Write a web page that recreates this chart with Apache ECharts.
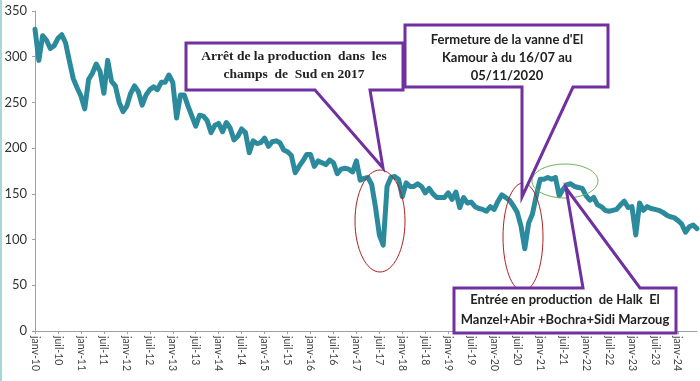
<!DOCTYPE html>
<html>
<head>
<meta charset="utf-8">
<script src="https://cdn.jsdelivr.net/npm/echarts@6/dist/echarts.min.js"></script>
<style>html,body{margin:0;padding:0;background:#fff;}#c{width:700px;height:381px;}</style>
</head>
<body>
<div id="c"></div>
<script>
const monthNames = ['janv','févr','mars','avr','mai','juin','juil','août','sept','oct','nov','déc'];
const firstYear = 10;
const values = [
330,296,323,318,309,312,320,324,315,295,276,266,
257,243,275,282,292,284,260,296,273,268,250,240,
246,260,268,262,247,258,264,267,264,272,272,280,
272,233,258,258,246,235,224,236,235,230,217,225,
227,218,228,222,209,213,221,217,195,208,205,206,
211,202,207,208,206,198,196,192,173,180,186,193,
193,180,186,184,182,187,184,172,177,178,177,174,
186,165,167,168,160,135,105,94,158,168,169,166,
147,162,158,158,161,158,151,156,150,146,146,146,
151,144,152,135,146,140,141,136,134,133,131,136,
133,142,149,146,143,137,130,115,90,118,128,148,
166,166,168,166,168,148,155,160,161,158,157,156,
148,143,146,138,136,132,131,132,133,138,142,135,
136,105,140,132,136,134,133,132,130,127,125,124,
121,117,108,114,116,112
];
const categories = values.map((v, i) => monthNames[i % 12] + '-' + (firstYear + Math.floor(i / 12)));

const annotations = [
  'Arrêt de la production  dans  les\nchamps  de  Sud en 2017',
  "Fermeture de la vanne d'El\nKamour à du 16/07 au\n05/11/2020",
  'Entrée en production  de Halk  El\nManzel+Abir +Bochra+Sidi Marzoug'
];

const chart = echarts.init(document.getElementById('c'), null, {renderer: 'canvas'});
const purple = '#7030A0';
chart.setOption({
  animation: false,
  backgroundColor: '#fff',
  grid: {left: 35, right: 3, top: 11, bottom: 50, containLabel: false},
  xAxis: {
    type: 'category',
    data: categories,
    boundaryGap: false,
    axisLine: {lineStyle: {color: '#a0a0a0', width: 1}},
    axisTick: {show: true, interval: 5, length: 3, lineStyle: {color: '#a0a0a0'}},
    axisLabel: {interval: 5, rotate: -90, fontSize: 10.5, color: '#444', fontFamily: 'Lato', margin: 5}
  },
  yAxis: {
    type: 'value',
    min: 0, max: 350, interval: 50,
    splitLine: {show: false},
    axisLine: {show: true, lineStyle: {color: '#a0a0a0', width: 1}},
    axisTick: {show: true, length: 3, lineStyle: {color: '#a0a0a0'}},
    axisLabel: {fontSize: 13, color: '#333', fontFamily: 'Lato', margin: 8}
  },
  series: [{
    type: 'line',
    data: values,
    showSymbol: false,
    symbol: 'none',
    lineStyle: {color: '#2B8A9C', width: 5, join: 'round', cap: 'round'},
    z: 2
  }],
  graphic: [
    {type: 'rect', shape: {x: 0, y: 0, width: 2, height: 381}, style: {fill: '#a9d6d6'}, z: 1},
    {type: 'ellipse', shape: {cx: 380, cy: 221, rx: 25, ry: 51}, style: {fill: 'none', stroke: '#b02020', lineWidth: 1}, z: 50},
    {type: 'ellipse', shape: {cx: 523, cy: 237, rx: 20, ry: 54}, style: {fill: 'none', stroke: '#b02020', lineWidth: 1}, z: 50},
    {type: 'ellipse', shape: {cx: 565, cy: 181, rx: 33, ry: 17}, style: {fill: 'none', stroke: '#6db35a', lineWidth: 1}, z: 50},
    {type: 'polygon', shape: {points: [[186,43],[403,43],[403,90],[370,90],[383,168],[315,90],[186,90]]},
      style: {fill: '#fff', stroke: purple, lineWidth: 3, lineJoin: 'miter'}, z: 60},
    {type: 'text', x: 294, y: 66, style: {text: annotations[0], font: 'bold 13.5px "Liberation Serif"', fill: '#222', align: 'center', verticalAlign: 'middle', lineHeight: 18}, z: 61},
    {type: 'polygon', shape: {points: [[405,25],[608,25],[608,87],[573,87],[522,197],[522,87],[405,87]]},
      style: {fill: '#fff', stroke: purple, lineWidth: 3, lineJoin: 'miter'}, z: 62},
    {type: 'text', x: 507, y: 58, style: {text: annotations[1], font: 'bold 13px Lato', fill: '#222', align: 'center', verticalAlign: 'middle', lineHeight: 18}, z: 63},
    {type: 'polygon', shape: {points: [[454,288],[583,288],[566,188],[640,288],[676,288],[676,333],[454,333]]},
      style: {fill: '#fff', stroke: purple, lineWidth: 3, lineJoin: 'miter'}, z: 64},
    {type: 'text', x: 565, y: 310, style: {text: annotations[2], font: 'bold 13px Lato', fill: '#222', align: 'center', verticalAlign: 'middle', lineHeight: 20}, z: 65}
  ]
});
</script>
</body>
</html>
